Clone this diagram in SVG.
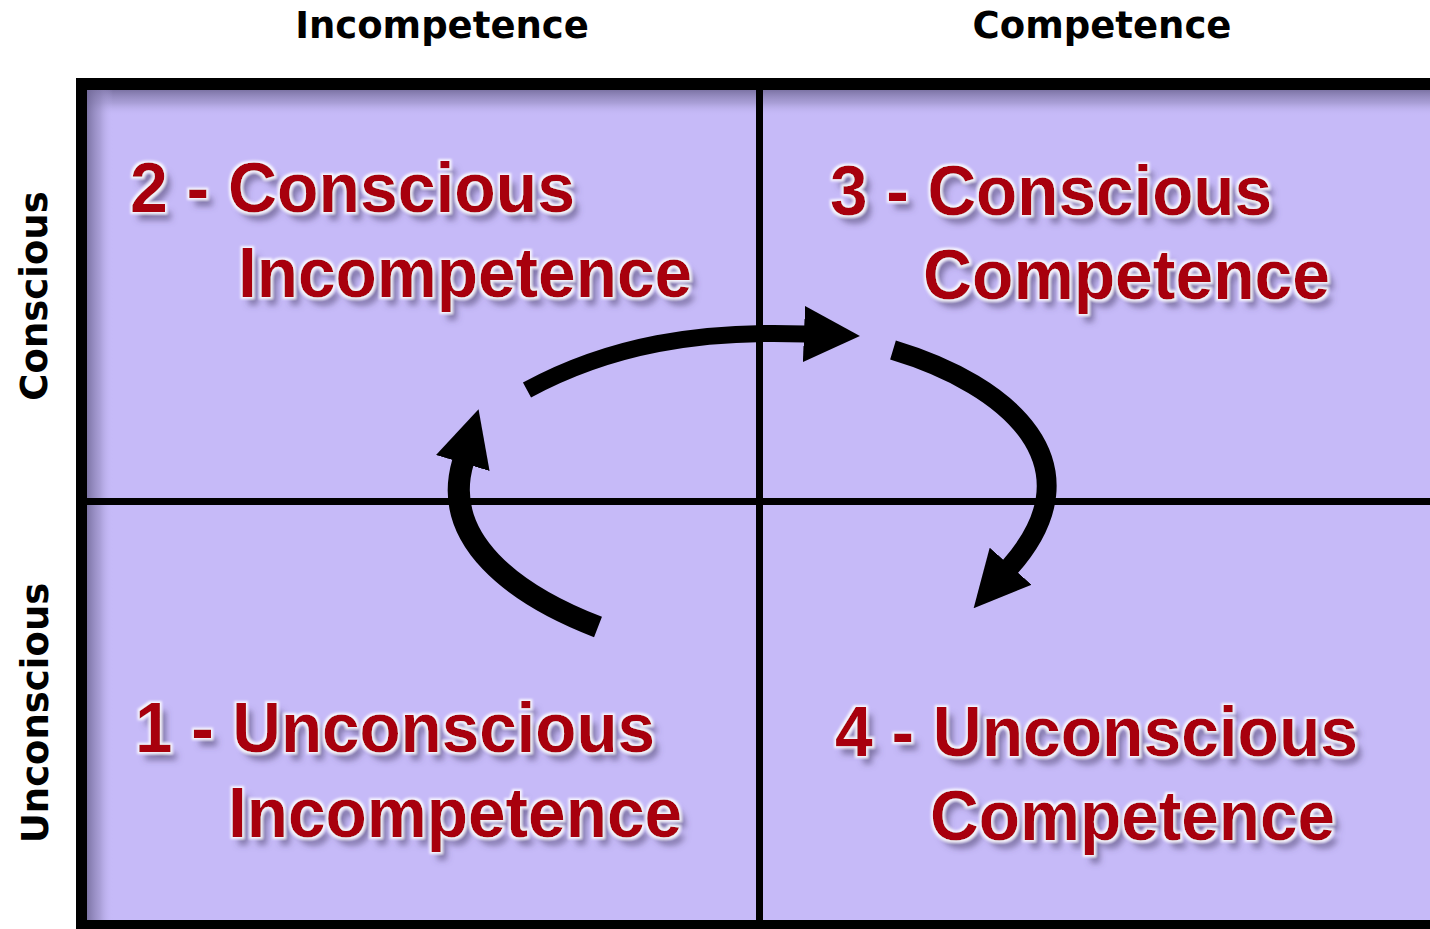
<svg xmlns="http://www.w3.org/2000/svg" width="1430" height="929" viewBox="0 0 1430 929">
<style>
.hdr{font-family:"DejaVu Sans","Liberation Sans",sans-serif;font-weight:bold;font-size:37px;fill:#000}
.lbl{font-family:"Liberation Sans",Arial,sans-serif;font-weight:bold;font-size:70px;fill:#A8000A}
.arc{fill:none;stroke:#000}
.div{fill:#000}
</style>
<defs>
<linearGradient id="topShade" x1="0" y1="0" x2="0" y2="1">
<stop offset="0" stop-color="#6f6796" stop-opacity="0.85"/>
<stop offset="0.5" stop-color="#8c83b5" stop-opacity="0.5"/>
<stop offset="1" stop-color="#c6baf8" stop-opacity="0"/>
</linearGradient>
<linearGradient id="leftShade" x1="0" y1="0" x2="1" y2="0">
<stop offset="0" stop-color="#6f6796" stop-opacity="0.85"/>
<stop offset="0.5" stop-color="#8c83b5" stop-opacity="0.5"/>
<stop offset="1" stop-color="#c6baf8" stop-opacity="0"/>
</linearGradient>
<filter id="emboss" x="-10%" y="-30%" width="130%" height="180%">
<feGaussianBlur in="SourceAlpha" stdDeviation="3" result="b"/>
<feOffset in="b" dx="6" dy="8" result="o"/>
<feFlood flood-color="#4e446e" flood-opacity="0.6"/>
<feComposite in2="o" operator="in" result="shadow"/>
<feMorphology in="SourceAlpha" operator="dilate" radius="1.5" result="d"/>
<feGaussianBlur in="d" stdDeviation="1.2" result="db"/>
<feFlood flood-color="#ffffff" flood-opacity="0.85"/>
<feComposite in2="db" operator="in" result="glow"/>
<feMerge><feMergeNode in="shadow"/><feMergeNode in="glow"/><feMergeNode in="SourceGraphic"/></feMerge>
</filter>
<marker id="head" markerUnits="userSpaceOnUse" markerWidth="56" markerHeight="56" viewBox="0 0 54 54" refX="1" refY="27" orient="auto">
<path d="M0,0 L54,27 L0,54 Z" fill="#000"/>
</marker>
</defs>
<rect x="0" y="0" width="1430" height="929" fill="#fff"/>
<g id="frame">
<rect x="76" y="78" width="1354" height="851" fill="#000"/>
<rect x="87" y="90" width="1343" height="830" fill="#c6baf8"/>
<rect x="87" y="90" width="1343" height="26" fill="url(#topShade)"/>
<rect x="87" y="90" width="26" height="830" fill="url(#leftShade)"/>
<rect x="756" y="90" width="7" height="830" class="div"/>
<rect x="87" y="498" width="1343" height="7" class="div"/>
</g>
<g id="axis-labels">
<text class="hdr" x="442" y="38" text-anchor="middle">Incompetence</text>
<text class="hdr" x="1102" y="38" text-anchor="middle">Competence</text>
<text class="hdr" transform="translate(47,296) rotate(-90)" text-anchor="middle">Conscious</text>
<text class="hdr" transform="translate(48,713) rotate(-90)" text-anchor="middle">Unconscious</text>
</g>
<g id="q2-conscious-incompetence" filter="url(#emboss)">
<text class="lbl" x="130" y="212" textLength="445" lengthAdjust="spacingAndGlyphs">2 - Conscious</text>
<text class="lbl" x="238" y="297" textLength="454" lengthAdjust="spacingAndGlyphs">Incompetence</text>
</g>
<g id="q3-conscious-competence" filter="url(#emboss)">
<text class="lbl" x="830" y="215" textLength="442" lengthAdjust="spacingAndGlyphs">3 - Conscious</text>
<text class="lbl" x="923" y="299" textLength="407" lengthAdjust="spacingAndGlyphs">Competence</text>
</g>
<g id="q1-unconscious-incompetence" filter="url(#emboss)">
<text class="lbl" x="135" y="752" textLength="520" lengthAdjust="spacingAndGlyphs">1 - Unconscious</text>
<text class="lbl" x="228" y="837" textLength="454" lengthAdjust="spacingAndGlyphs">Incompetence</text>
</g>
<g id="q4-unconscious-competence" filter="url(#emboss)">
<text class="lbl" x="835" y="756" textLength="523" lengthAdjust="spacingAndGlyphs">4 - Unconscious</text>
<text class="lbl" x="930" y="840" textLength="405" lengthAdjust="spacingAndGlyphs">Competence</text>
</g>
<g id="connectors">
<path class="arc" d="M598 627 C515 595 440 540 463 462" stroke-width="22" marker-end="url(#head)"/>
<path class="arc" d="M527 390 C610 345 700 330 805 334" stroke-width="17" marker-end="url(#head)"/>
<path class="arc" d="M893 350 C1010 385 1100 465 1010 567" stroke-width="20" marker-end="url(#head)"/>
</g>
</svg>
